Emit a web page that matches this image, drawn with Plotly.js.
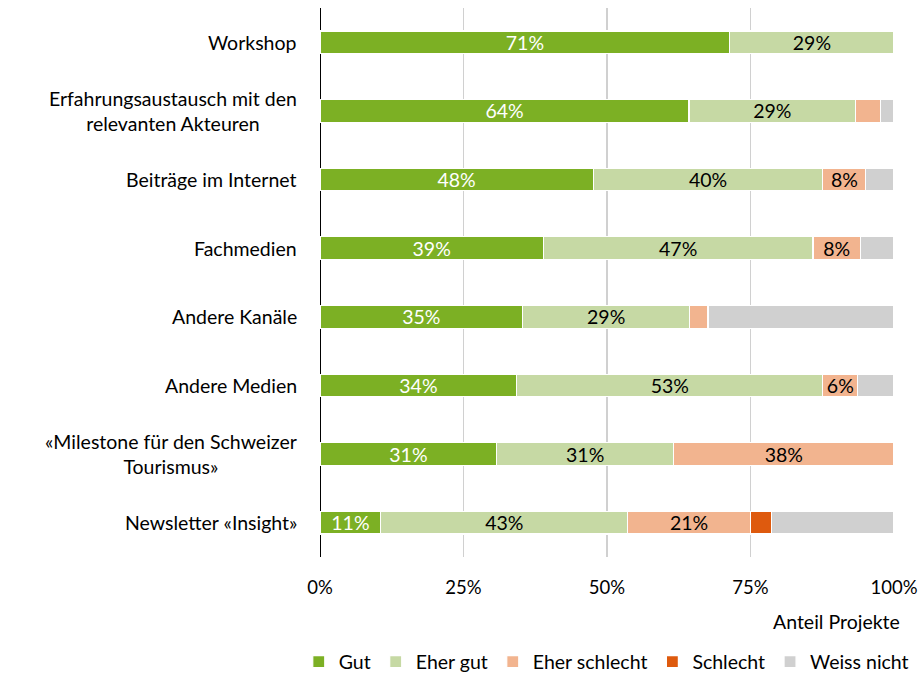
<!DOCTYPE html>
<html>
<head>
<meta charset="utf-8">
<script src="https://cdn.plot.ly/plotly-3.0.1.min.js"></script>
<style>html,body{margin:0;padding:0;background:#fff;}#chart{width:922px;height:679px;}</style>
</head>
<body>
<div id="chart"></div>
<script>
const categories = [
  "Workshop",
  "Erfahrungsaustausch mit den<br>relevanten Akteuren",
  "Beiträge im Internet",
  "Fachmedien",
  "Andere Kanäle",
  "Andere Medien",
  "«Milestone für den Schweizer<br>Tourismus»",
  "Newsletter «Insight»"
];
const seriesNames = ["Gut", "Eher gut", "Eher schlecht", "Schlecht", "Weiss nicht"];
const gut          = [71.4, 64.3, 47.6, 38.9, 35.3, 34.3, 30.8, 10.6];
const eherGut      = [28.6, 29.0, 40.0, 47.0, 29.1, 53.3, 30.8, 43.0];
const eherSchlecht = [0,    4.4,  7.5,  8.2,  3.2,  6.1,  38.4, 21.4];
const schlecht     = [0,    0,    0,    0,    0,    0,    0,    3.6];
const weissNicht   = [0,    2.3,  4.9,  5.9,  32.4, 6.3,  0,    21.4];
const colors = ["#7cb024", "#c6d9a4", "#f2b48f", "#de5a0e", "#d0d0d0"];
const textColors = ["#ffffff", "#000000", "#000000", "#000000", "#000000"];
const tickVals = [0, 25, 50, 75, 100];
const tickText = ["0%", "25%", "50%", "75%", "100%"];

const allSeries = [gut, eherGut, eherSchlecht, schlecht, weissNicht];
const FONT = "Lato, 'Open Sans', sans-serif";
const FS = 19.5;

const traces = allSeries.map((vals, i) => ({
  type: "bar",
  orientation: "h",
  name: seriesNames[i],
  y: categories,
  x: vals,
  width: 0.33,
  marker: { color: colors[i], line: { color: "#ffffff", width: 1.2 } },
  text: vals.map(v => (i < 4 && v >= 5) ? Math.round(v) + "%" : ""),
  textposition: "inside",
  insidetextanchor: "middle",
  constraintext: "none",
  textfont: { color: textColors[i], size: FS, family: FONT },
  hoverinfo: "none"
}));

const annotations = categories.map(c => ({
  xref: "paper", yref: "y", x: 0, y: c,
  xanchor: "right", yanchor: "middle", xshift: -21,
  text: c, showarrow: false, align: "center",
  font: { size: FS, color: "#000", family: FONT }
}));
annotations.push({
  xref: "paper", yref: "paper", x: 1, y: -0.118,
  xanchor: "right", yanchor: "middle", xshift: 8,
  text: "Anteil Projekte", showarrow: false,
  font: { size: FS, color: "#000", family: FONT }
});

const layout = {
  width: 922, height: 679,
  margin: { l: 320, r: 28, t: 8, b: 122, autoexpand: false },
  barmode: "stack",
  paper_bgcolor: "#fff", plot_bgcolor: "#fff",
  font: { family: FONT, size: FS, color: "#000" },
  showlegend: true,
  legend: {
    orientation: "h", x: -0.037, xanchor: "left", y: -0.191, yanchor: "middle",
    font: { size: FS, family: FONT }, traceorder: "normal",
    itemwidth: 30
  },
  hovermode: false,
  xaxis: {
    range: [0, 100], tickvals: tickVals, ticktext: tickText,
    showgrid: true, gridcolor: "#d0d0d0", gridwidth: 1.5,
    zeroline: true, zerolinecolor: "#000", zerolinewidth: 1,
    showline: false, ticks: "", ticklen: 0, ticklabelstandoff: 17,
    automargin: false,
    tickfont: { size: 18.5, family: FONT },
    fixedrange: true
  },
  yaxis: {
    type: "category", categoryorder: "array", categoryarray: categories,
    autorange: "reversed", showticklabels: false, showgrid: false,
    zeroline: false, showline: false, ticks: "", fixedrange: true
  },
  annotations: annotations
};

Plotly.newPlot("chart", traces, layout, { displayModeBar: false, staticPlot: true });
</script>
</body>
</html>
